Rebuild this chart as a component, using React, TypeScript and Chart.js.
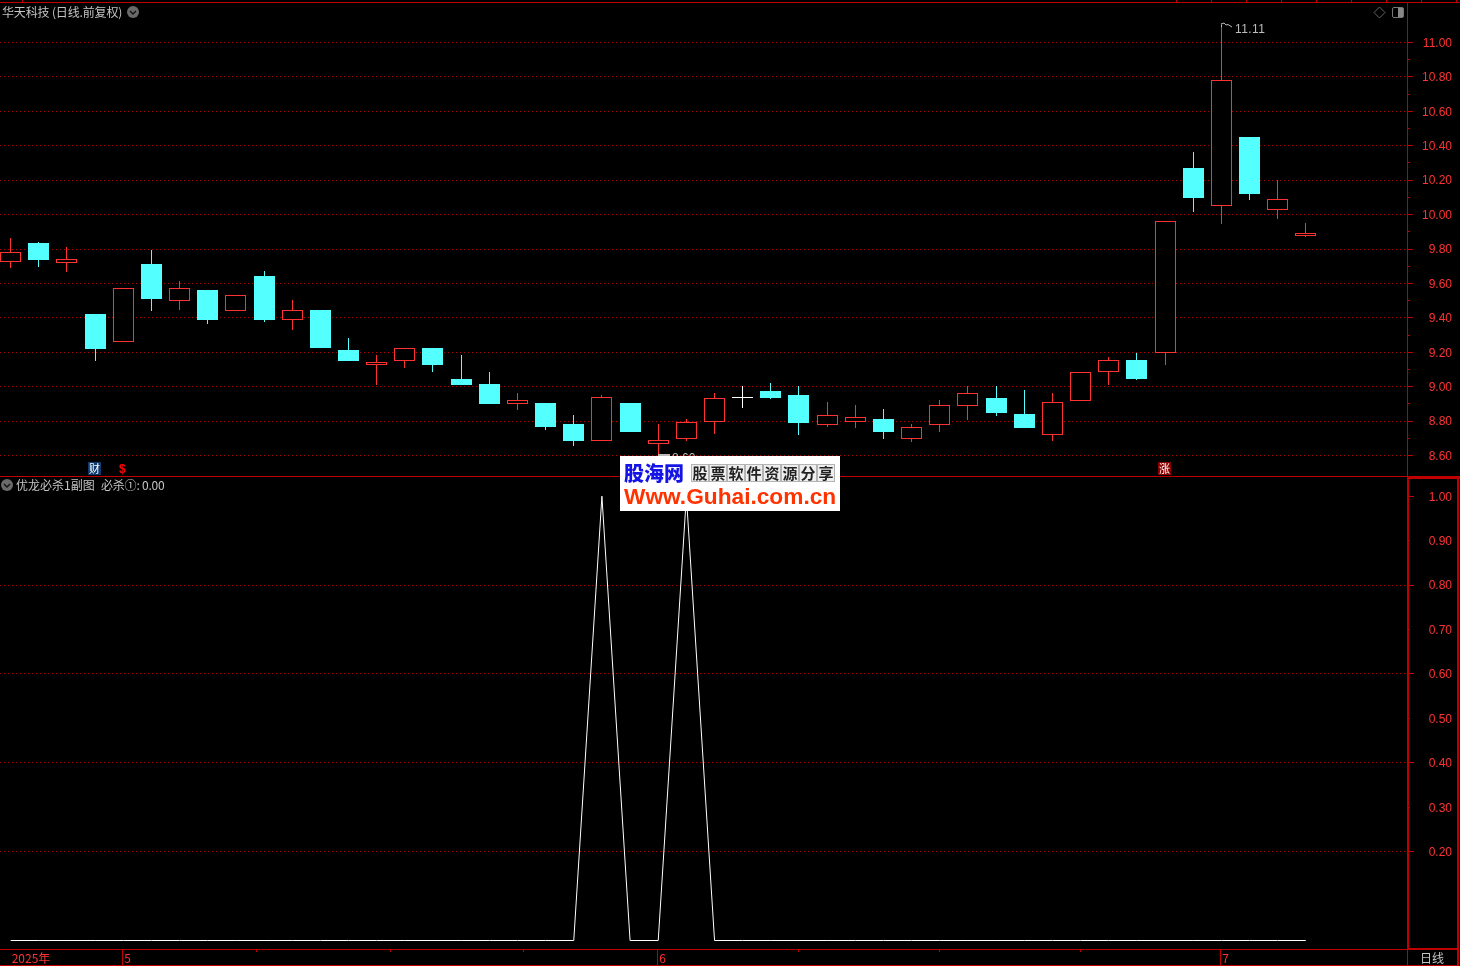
import React, { useEffect, useRef } from "react";
import { Chart, registerables } from "chart.js";

Chart.register(...registerables);

const opens = [9.73,9.83,9.72,9.42,9.26,9.71,9.50,9.56,9.44,9.64,9.39,9.44,9.21,9.13,9.15,9.22,9.04,9.01,8.90,8.90,8.78,8.69,8.90,8.67,8.70,8.80,8.94,8.97,8.95,8.78,8.80,8.81,8.70,8.78,8.89,8.93,8.84,8.72,8.92,9.09,9.15,9.20,10.27,10.05,10.45,10.03,9.88];
const highs = [9.86,9.84,9.81,9.42,9.57,9.79,9.61,9.56,9.53,9.67,9.50,9.44,9.28,9.18,9.22,9.22,9.18,9.08,8.96,8.90,8.83,8.95,8.90,8.78,8.81,8.96,9.00,9.02,9.00,8.91,8.89,8.87,8.78,8.92,9.00,9.00,8.98,8.96,9.08,9.17,9.19,9.96,10.36,11.11,10.45,10.20,9.95];
const lows = [9.69,9.70,9.67,9.15,9.26,9.44,9.45,9.37,9.44,9.38,9.33,9.23,9.15,9.01,9.11,9.09,9.01,8.90,8.87,8.75,8.66,8.69,8.74,8.60,8.69,8.73,8.88,8.93,8.72,8.77,8.76,8.70,8.68,8.74,8.81,8.83,8.76,8.69,8.92,9.01,9.04,9.13,10.02,9.95,10.09,9.98,9.87];
const closes = [9.78,9.74,9.74,9.22,9.57,9.51,9.57,9.39,9.53,9.39,9.44,9.23,9.15,9.14,9.22,9.13,9.01,8.90,8.92,8.77,8.69,8.94,8.74,8.69,8.79,8.93,8.94,8.94,8.79,8.83,8.82,8.74,8.76,8.89,8.96,8.85,8.76,8.91,9.08,9.15,9.05,9.96,10.10,10.78,10.12,10.09,9.89];
const biSha = [0,0,0,0,0,0,0,0,0,0,0,0,0,0,0,0,0,0,0,0,0,1,0,0,1,0,0,0,0,0,0,0,0,0,0,0,0,0,0,0,0,0,0,0,0,0,0];
const priceTicks = [8.6,8.7,8.8,8.9,9.0,9.1,9.2,9.3,9.4,9.5,9.6,9.7,9.8,9.9,10.0,10.1,10.2,10.3,10.4,10.5,10.6,10.7,10.8,10.9,11.0];
const subTicks = [0.2,0.3,0.4,0.5,0.6,0.7,0.8,0.9,1.0];
const dateTickIdx = [0, 4, 23, 43];
const dateTickLabels = ["2025年", "5", "6", "7"];
const monthLineIdx = [4, 23, 43];
const minorDateIdx = [8.72, 13.48, 18.2, 27.97, 33.0, 38.0];

const RED = "#ff3232";
const CYAN = "#54ffff";
const FRAME = "#c00000";
const GRID = "#b00000";
const XMIN = -0.37862;
const XMAX = 49.5948;
const isEven = (v: number) => Math.round(v * 10) % 2 === 0;

const snapBars = {
  id: "snapBars",
  afterDatasetsUpdate(chart: any) {
    chart.getSortedVisibleDatasetMetas().forEach((meta: any) => {
      if (meta.type !== "bar") return;
      meta.data.forEach((el: any) => {
        const top = Math.floor(Math.min(el.y, el.base));
        const bottom = Math.floor(Math.max(el.y, el.base)) + 1;
        el.x = Math.floor(el.x) + 0.5;
        el.y = top;
        el.base = bottom;
      });
    });
  },
};

const rect = (ctx: any, x: number, y: number, w: number, h: number) => ctx.fillRect(x, y, w, h);

const topFrame = {
  id: "topFrame",
  afterDraw(chart: any) {
    const ctx = chart.ctx;
    const y = chart.scales.y;
    ctx.save();
    ctx.fillStyle = FRAME;
    rect(ctx, 0, 2, 1460, 1);
    rect(ctx, 0, 476, 1460, 1);
    rect(ctx, 1407, 2, 1, 474);
    rect(ctx, 22, 0, 1, 2);
    for (let px = 1176; px < 1460; px += 35) rect(ctx, px, 0, 1, 2);
    y.ticks.forEach((t: any) => {
      rect(ctx, 1408, Math.floor(y.getPixelForValue(t.value)), isEven(t.value) ? 5 : 2, 1);
    });
    ctx.restore();
  },
};

const bottomFrame = {
  id: "bottomFrame",
  afterDraw(chart: any) {
    const ctx = chart.ctx;
    const y = chart.scales.y;
    const x = chart.scales.x;
    ctx.save();
    ctx.fillStyle = FRAME;
    rect(ctx, 1407, 477, 53, 2);
    rect(ctx, 1407, 477, 2, 472);
    rect(ctx, 1457, 477, 2, 489);
    rect(ctx, 0, 949, 1407, 1);
    rect(ctx, 1407, 948, 52, 2);
    rect(ctx, 0, 965, 1459, 1);
    rect(ctx, 1407, 949, 1, 17);
    y.ticks.forEach((t: any) => {
      rect(ctx, 1409, Math.floor(y.getPixelForValue(t.value)), isEven(t.value) ? 5 : 1, 1);
    });
    monthLineIdx.forEach((i) => rect(ctx, Math.floor(x.getPixelForValue(i)) - 1, 949, 1, 17));
    minorDateIdx.forEach((i) => rect(ctx, Math.floor(x.getPixelForValue(i)), 950, 1, 2));
    ctx.restore();
  },
};

const CJK = '"Noto Sans CJK SC", "Liberation Sans", sans-serif';
const LAT = '"Liberation Sans", Arial, sans-serif';

function Txt({ x, y, color = "#c4c4c4", size = 12, font = CJK, weight = 400, spacing = 0, children }: any) {
  return (
    <div
      style={{
        position: "absolute",
        left: x,
        top: y - size,
        height: size * 2,
        lineHeight: `${size * 2}px`,
        color,
        fontSize: size,
        fontFamily: font,
        fontWeight: weight,
        letterSpacing: spacing,
        whiteSpace: "pre",
      }}
    >
      {children}
    </div>
  );
}

function Chevron({ cx, cy }: any) {
  return (
    <svg style={{ position: "absolute", left: cx - 7, top: cy - 7 }} width={14} height={14}>
      <circle cx={7} cy={7} r={6} fill="#6a6a6a" />
      <path d="M4 6 L7 9 L10 6" stroke="#111" strokeWidth={1.4} fill="none" />
    </svg>
  );
}

function Badge({ x, y, bg, children }: any) {
  return (
    <div
      style={{
        position: "absolute",
        left: x,
        top: y,
        width: 13,
        height: 13,
        background: bg,
        color: "#fff",
        fontSize: 11,
        lineHeight: "13px",
        textAlign: "center",
        fontFamily: CJK,
      }}
    >
      {children}
    </div>
  );
}

const ADS = ["股", "票", "软", "件", "资", "源", "分", "享"];

export default function App() {
  const topRef = useRef<HTMLCanvasElement>(null);
  const botRef = useRef<HTMLCanvasElement>(null);

  useEffect(() => {
    document.body.style.margin = "0";
    document.body.style.background = "#000";
    const idx = opens.map((_, i) => i);
    const isUp = (i: number) => closes[i] > opens[i];
    const isDoji = (i: number) => closes[i] === opens[i];
    const candleColor = (i: number) => (isDoji(i) ? "#ffffff" : isUp(i) ? RED : CYAN);
    const fitY = (s: any) => {
      s.width = 45;
      s.paddingTop = 0;
      s.paddingBottom = 0;
      s.paddingLeft = 0;
      s.paddingRight = 0;
    };
    const tickFont = { family: LAT, size: 12 };

    const top = new Chart(topRef.current as any, {
      type: "bar",
      data: {
        datasets: [
          {
            label: "实体",
            data: idx.map((i) => ({ x: i, y: [opens[i], closes[i]] })) as any,
            barThickness: 21,
            grouped: false,
            borderSkipped: false,
            borderWidth: 1,
            inflateAmount: 0,
            borderColor: idx.map(candleColor),
            backgroundColor: idx.map((i) => (isDoji(i) ? "#ffffff" : isUp(i) ? "#000000" : CYAN)),
          } as any,
          {
            label: "影线",
            data: idx.map((i) => ({ x: i, y: [lows[i], highs[i]] })) as any,
            barThickness: 1,
            grouped: false,
            borderSkipped: false,
            borderWidth: 0,
            inflateAmount: 0,
            backgroundColor: idx.map(candleColor),
          } as any,
        ],
      },
      options: {
        responsive: false,
        animation: false,
        layout: { padding: { top: 3, bottom: 490, left: 0, right: 8 } },
        plugins: { legend: { display: false }, tooltip: { enabled: false } },
        scales: {
          x: { type: "linear", display: false, min: XMIN, max: XMAX, offset: false, grid: { display: false } },
          y: {
            position: "right",
            min: 8.481,
            max: 11.2295,
            afterBuildTicks: (s: any) => {
              s.ticks = priceTicks.map((value) => ({ value }));
            },
            afterFit: fitY,
            border: { display: false, dash: [1, 3] },
            grid: {
              drawTicks: false,
              lineWidth: 1,
              color: (c: any) => (c.tick && isEven(c.tick.value) ? GRID : "rgba(0,0,0,0)"),
            },
            ticks: {
              autoSkip: false,
              crossAlign: "far",
              padding: 0,
              labelOffset: 1,
              color: RED,
              font: tickFont,
              callback: (v: any) => (isEven(Number(v)) ? Number(v).toFixed(2) : ""),
            },
          },
        },
      } as any,
      plugins: [snapBars, topFrame],
    });

    const bottom = new Chart(botRef.current as any, {
      type: "line",
      data: {
        datasets: [
          {
            label: "必杀①",
            data: idx.map((i) => ({ x: i, y: biSha[i] })),
            borderColor: "#ffffff",
            borderWidth: 1,
            pointRadius: 0,
            tension: 0,
            clip: false,
          } as any,
        ],
      },
      options: {
        responsive: false,
        animation: false,
        layout: { padding: { top: 477, bottom: 0, left: 0, right: 8 } },
        plugins: { legend: { display: false }, tooltip: { enabled: false } },
        scales: {
          x: {
            type: "linear",
            min: XMIN,
            max: XMAX,
            afterBuildTicks: (s: any) => {
              s.ticks = dateTickIdx.map((value) => ({ value }));
            },
            afterFit: (s: any) => {
              s.height = 17;
              s.paddingLeft = 0;
              s.paddingRight = 0;
            },
            border: { display: false },
            grid: { display: false, drawTicks: false },
            ticks: {
              autoSkip: false,
              maxRotation: 0,
              minRotation: 0,
              align: "start",
              labelOffset: 1,
              padding: 2,
              color: RED,
              font: { family: CJK, size: 12 },
              callback: (v: any) => dateTickLabels[dateTickIdx.indexOf(Number(v))] ?? "",
            },
          },
          y: {
            position: "right",
            min: -0.01913,
            max: 1.04321,
            afterBuildTicks: (s: any) => {
              s.ticks = subTicks.map((value) => ({ value }));
            },
            afterFit: fitY,
            border: { display: false, dash: [1, 3] },
            grid: {
              drawTicks: false,
              lineWidth: 1,
              color: (c: any) =>
                c.tick && isEven(c.tick.value) && c.tick.value < 0.95 ? GRID : "rgba(0,0,0,0)",
            },
            ticks: {
              autoSkip: false,
              crossAlign: "far",
              padding: 0,
              labelOffset: 1,
              color: RED,
              font: tickFont,
              callback: (v: any) => Number(v).toFixed(2),
            },
          },
        },
      } as any,
      plugins: [bottomFrame],
    });

    return () => {
      top.destroy();
      bottom.destroy();
    };
  }, []);

  return (
    <div style={{ position: "fixed", left: 0, top: 0, width: 1460, height: 966, background: "#000", overflow: "hidden" }}>
      <canvas ref={topRef} width={1460} height={966} style={{ position: "absolute", left: 0, top: 0, width: 1460, height: 966 }} />
      <canvas ref={botRef} width={1460} height={966} style={{ position: "absolute", left: 0, top: 0, width: 1460, height: 966 }} />

      <Txt x={2} y={12} spacing={-0.15}>华天科技 (日线.前复权)</Txt>
      <Chevron cx={133} cy={12} />
      <Chevron cx={7} cy={485} />
      <Txt x={16} y={485}>优龙必杀1副图</Txt>
      <Txt x={101} y={485} spacing={-0.2}>必杀①: 0.00</Txt>
      <Txt x={1420} y={958}>日线</Txt>

      <svg style={{ position: "absolute", left: 1372, top: 5 }} width={36} height={15}>
        <path d="M7.5 2 L13 7.5 L7.5 13 L2 7.5 Z" stroke="#666" fill="none" />
        <rect x={20.5} y={2.5} width={11} height={10} rx={1.5} stroke="#777" fill="none" />
        <rect x={26} y={3} width={5} height={9} fill="#888" />
      </svg>

      <svg style={{ position: "absolute", left: 1218, top: 20 }} width={18} height={12}>
        <path d="M3.5 4 L6 3 L8 5 L10 4.5 L14 7" stroke="#bbb" fill="none" />
        <rect x={3} y={5} width={1} height={2} fill="#bbb" />
      </svg>
      <Txt x={1235} y={29} font={LAT} color="#bdbdbd" spacing={0.4}>11.11</Txt>
      <div style={{ position: "absolute", left: 658, top: 454, width: 12, height: 2, background: "#bbb" }} />
      <Txt x={672} y={458} font={LAT} color="#bdbdbd">8.60</Txt>

      <Badge x={88} y={462} bg="#0c3a6e">财</Badge>
      <Txt x={119} y={469} font={LAT} color="#ff0000" size={12} weight={700}>$</Txt>
      <Badge x={1158} y={462} bg="#8a0000">涨</Badge>

      <div style={{ position: "absolute", left: 620, top: 456, width: 220, height: 55, background: "#fff" }}>
        <div style={{ position: "absolute", left: 4, top: 5, fontFamily: CJK, fontWeight: 900, fontSize: 20, lineHeight: "24px", color: "#1414e6", whiteSpace: "pre" }}>股海网</div>
        <div style={{ position: "absolute", left: 71, top: 8, display: "flex", background: "#eeeeee" }}>
          {ADS.map((c) => (
            <div key={c} style={{ boxSizing: "border-box", width: 18, height: 18, border: "1px solid #b4b4b4", fontFamily: CJK, fontWeight: 700, fontSize: 15, lineHeight: "16px", textAlign: "center", color: "#222" }}>{c}</div>
          ))}
        </div>
        <div style={{ position: "absolute", left: 4, top: 28, fontFamily: LAT, fontWeight: 700, fontSize: 22.7, lineHeight: "24px", color: "#ff3300", whiteSpace: "pre" }}>Www.Guhai.com.cn</div>
      </div>
    </div>
  );
}
